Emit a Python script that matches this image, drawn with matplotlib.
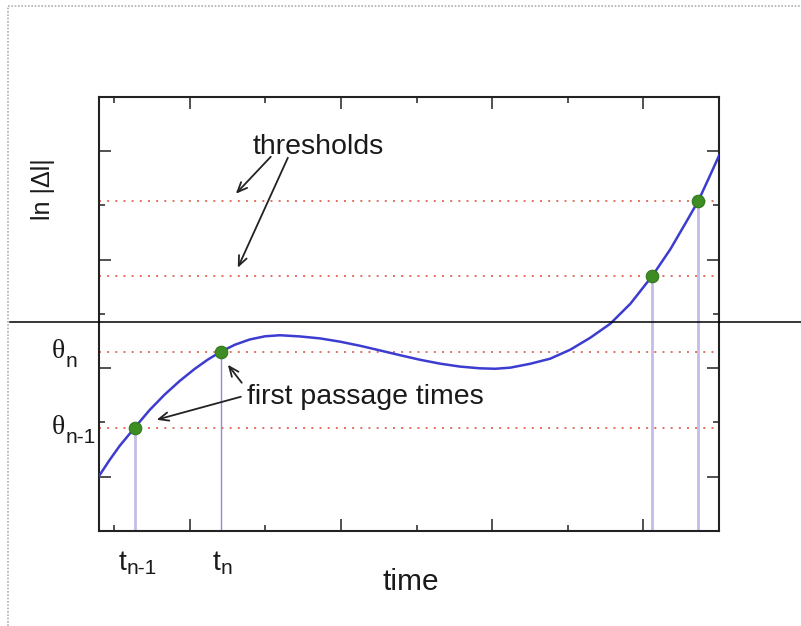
import matplotlib
matplotlib.use("Agg")
import matplotlib.pyplot as plt
from matplotlib.lines import Line2D
from matplotlib.transforms import blended_transform_factory

plt.rcParams['font.family'] = ['Liberation Sans', 'DejaVu Sans']

# curve ln|Delta| vs time
curve_x = [-0.603, -0.530, -0.464, -0.364, -0.265, -0.166, -0.066, 0.033, 0.119,
           0.205, 0.298, 0.397, 0.497, 0.596, 0.728, 0.861, 0.993, 1.126, 1.258,
           1.391, 1.523, 1.656, 1.788, 1.921, 2.020, 2.119, 2.252, 2.384, 2.517,
           2.649, 2.781, 2.914, 3.060, 3.179, 3.278, 3.364, 3.444, 3.503]
curve_y = [0.000, 0.154, 0.283, 0.452, 0.615, 0.757, 0.883, 0.994, 1.079,
           1.152, 1.216, 1.265, 1.294, 1.304, 1.293, 1.275, 1.245, 1.207, 1.164,
           1.120, 1.078, 1.042, 1.015, 0.999, 0.995, 1.005, 1.041, 1.088, 1.171,
           1.281, 1.410, 1.594, 1.853, 2.098, 2.335, 2.544, 2.786, 2.968]

thresholds = [0.452, 1.152, 1.853, 2.544]
passage_times = [-0.364, 0.205, 3.060, 3.364]
cut_level = 1.429  # black horizontal line across the figure

fig = plt.figure(figsize=(8.01, 6.26), dpi=100)
ax = fig.add_axes([0.1236, 0.1518, 0.774, 0.6933])
ax.set_xlim(-0.6, 3.5)
ax.set_ylim(-0.5, 3.5)

for th in thresholds:
    ax.axhline(th, color='#e07060', lw=1.4, linestyle=(0, (1, 3.2)), zorder=1)

vcolors = ['#c4bce8', '#8c8cd8', '#c4bce8', '#c4bce8']
vwidths = [2.0, 1.0, 2.0, 2.0]
for tx, th, c, w in zip(passage_times, thresholds, vcolors, vwidths):
    ax.vlines(tx, -0.5, th, color=c, lw=w, zorder=2)

ax.plot(curve_x, curve_y, color='#3c3cd0', lw=1.8, zorder=3,
        solid_capstyle='round', solid_joinstyle='round')
ax.plot(passage_times, thresholds, 'o', ms=9, color='#3e8c24', mec='#2f7a1a', mew=0.8, zorder=4)

ax.axhline(cut_level, xmin=-0.1435, xmax=1.135, color='black', lw=1.1, clip_on=False, zorder=5)

# ticks, no labels
ax.set_xticks([0, 1, 2, 3])
ax.set_xticks([-0.5, 0.5, 1.5, 2.5], minor=True)
ax.set_yticks([0, 1, 2, 3])
ax.set_yticks([-0.5, 0.5, 1.5, 2.5, 3.5], minor=True)
ax.tick_params(which='both', direction='in', top=True, right=True,
               labelbottom=False, labelleft=False, width=1.1, color='#222222')
ax.tick_params(which='major', length=8.5)
ax.tick_params(which='minor', length=4)
for s in ax.spines.values():
    s.set_linewidth(1.5)
    s.set_color('#222222')

fs = 20.5
tc = '#1a1a1a'
ax.text(0.848, 3.041, 'thresholds', fontsize=fs, ha='center', va='center', color=tc)
ax.text(0.377, 0.737, 'first passage times', fontsize=fs, ha='left', va='center', color=tc)

akw = dict(arrowstyle='->,head_length=0.7,head_width=0.3', lw=1.3, color='#222222',
           shrinkA=0, shrinkB=0)
ax.annotate('', xy=(0.305, 2.608), xytext=(0.536, 2.949), arrowprops=akw)
ax.annotate('', xy=(0.318, 1.926), xytext=(0.649, 2.940), arrowprops=akw)
ax.annotate('', xy=(-0.219, 0.525), xytext=(0.338, 0.737), arrowprops=akw)
ax.annotate('', xy=(0.252, 1.032), xytext=(0.344, 0.866), arrowprops=akw)

ax.text(-0.09, 0.788, 'ln |Δl|', rotation=90, fontsize=18, ha='center', va='center',
        transform=ax.transAxes, color=tc)
ax.text(0.503, -0.1175, 'time', fontsize=21.5, ha='center', va='center',
        transform=ax.transAxes, color=tc)

# theta labels on the left
ytr = blended_transform_factory(ax.transAxes, ax.transData)
for th, sub in [(thresholds[1], 'n'), (thresholds[0], 'n-1')]:
    main = ax.text(-0.0758, th, 'θ', fontsize=20, ha='left', va='center', transform=ytr,
                   color=tc, family='Liberation Serif')
    ax.annotate(sub, xy=(1, 0), xycoords=main, xytext=(0.5, 2), textcoords='offset points',
                ha='left', va='center', fontsize=15, color=tc)

# t labels under the axis
xtr = blended_transform_factory(ax.transData, ax.transAxes)
for tx, sub, dx in [(passage_times[0], 'n-1', -9), (passage_times[1], 'n', -3)]:
    main = ax.annotate('t', xy=(tx, 0), xycoords=xtr, xytext=(dx, -28),
                       textcoords='offset points', ha='center', va='baseline',
                       fontsize=20.5, color=tc)
    ax.annotate(sub, xy=(1, 0), xycoords=main, xytext=(0, 5), textcoords='offset points',
                ha='left', va='center', fontsize=15, color=tc)

# dotted frame at top and left of the figure
fig.add_artist(Line2D([0.01, 1.0], [0.9904, 0.9904], color='#b0b0b0', lw=1.2,
                      linestyle=(0, (1, 1))))
fig.add_artist(Line2D([0.01, 0.01], [0.0, 0.9904], color='#b0b0b0', lw=1.2,
                      linestyle=(0, (1, 1))))

fig.savefig('out.png', dpi=100)
